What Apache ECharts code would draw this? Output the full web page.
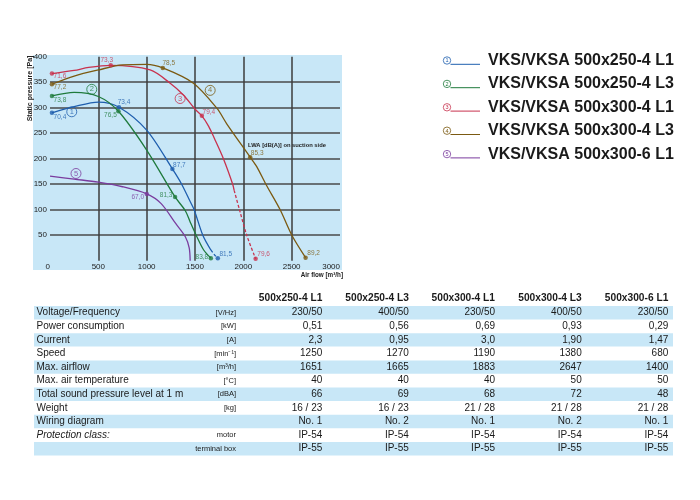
<!DOCTYPE html>
<html>
<head>
<meta charset="utf-8">
<script src="https://cdn.jsdelivr.net/npm/echarts@6/dist/echarts.min.js"></script>
<style>
html, body { margin: 0; padding: 0; background: #fff; }
#main { width: 700px; height: 500px; }
</style>
</head>
<body>
<div id="main"></div>
<script>
var models = ['VKS/VKSA 500x250-4 L1', 'VKS/VKSA 500x250-4 L3', 'VKS/VKSA 500x300-4 L1', 'VKS/VKSA 500x300-4 L3', 'VKS/VKSA 500x300-6 L1'];
var tagNums = ['1', '2', '3', '4', '5'];
var colors = ['#1f5fae', '#1f7a3c', '#c8324e', '#7b5a12', '#7a3c9e'];

// fan curves: [air flow m3/h, static pressure Pa]
var curve1 = [[20, 290], [250, 302], [500, 311], [714, 301], [1000, 256], [1266, 180], [1362, 150], [1450, 116], [1491, 100], [1581, 50], [1664, 21]];
var curve1Dash = [[1664, 21], [1700, 12], [1736, 5]];
var curve2 = [[20, 323], [250, 330], [500, 322], [708, 293], [1000, 217], [1294, 125], [1400, 98], [1450, 76], [1512, 50], [1590, 21], [1664, 5]];
var curve3 = [[20, 367], [250, 373], [400, 379], [628, 383], [1036, 374], [1243, 348], [1380, 325], [1502, 297], [1571, 284], [1640, 264], [1700, 240], [1794, 200], [1890, 150], [1905, 138]];
var curve3Dash = [[1905, 138], [1960, 100], [2035, 50], [2127, 4]];
var curve4 = [[20, 346], [250, 362], [500, 374], [750, 384], [1000, 385], [1167, 378], [1484, 348], [1726, 299], [1830, 268], [2071, 203], [2140, 184], [2233, 150], [2381, 100], [2502, 50], [2644, 6]];
var curve5 = [[0, 166], [250, 160], [500, 154], [750, 145], [1001, 131], [1150, 112], [1300, 73], [1400, 47], [1440, 25], [1450, 0]];

// LWA marker points [air flow, pressure] and their values
var lwaPts1 = [[20, 290], [714, 301], [1266, 180], [1736, 5]];
var lwaVal1 = ['70,4', '73,4', '87,7', '81,5'];
var lwaPts2 = [[20, 323], [708, 293], [1294, 125], [1664, 5]];
var lwaVal2 = ['73,8', '76,5', '81,3', '83,8'];
var lwaPts3 = [[20, 367], [628, 383], [1571, 284], [2127, 4]];
var lwaVal3 = ['71,6', '73,3', '79,4', '79,6'];
var lwaPts4 = [[20, 346], [1167, 378], [2071, 203], [2644, 6]];
var lwaVal4 = ['77,2', '78,5', '85,3', '89,2'];
var lwaPts5 = [[1001, 131]];
var lwaVal5 = ['67,0'];

// where the curve number tags sit
var tagPts = [[225, 292], [432, 336], [1346, 318], [1657, 334], [269, 171]];

// label offsets (px) for the LWA values
var lwaOff = [
  [[8, 4], [5, -5], [7, -4], [8, -4]],
  [[8, 4], [-8, 4], [-9, -2], [-9, -1]],
  [[8, 3], [-4, -5], [7, -4], [8, -4]],
  [[8, 3], [6, -5], [7, -4], [8, -4]],
  [[-9, 3]]
];

// table
var colHeads = ['500x250-4 L1', '500x250-4 L3', '500x300-4 L1', '500x300-4 L3', '500x300-6 L1'];
var rowNames = ['Voltage/Frequency', 'Power consumption', 'Current', 'Speed', 'Max. airflow', 'Max. air temperature', 'Total sound pressure level at 1 m', 'Weight', 'Wiring diagram', 'Protection class:', ''];
var rowUnits = ['[V/Hz]', '[kW]', '[A]', '[min\u207B\u00B9]', '[m\u00B3/h]', '[\u00B0C]', '[dBA]', '[kg]', '', 'motor', 'terminal box'];
var voltage = ['230/50', '400/50', '230/50', '400/50', '230/50'];
var power = ['0,51', '0,56', '0,69', '0,93', '0,29'];
var current = ['2,3', '0,95', '3,0', '1,90', '1,47'];
var speed = ['1250', '1270', '1190', '1380', '680'];
var maxAirflow = ['1651', '1665', '1883', '2647', '1400'];
var maxTemp = ['40', '40', '40', '50', '50'];
var soundLevel = ['66', '69', '68', '72', '48'];
var weight = ['16 / 23', '16 / 23', '21 / 28', '21 / 28', '21 / 28'];
var wiring = ['No. 1', 'No. 2', 'No. 1', 'No. 2', 'No. 1'];
var ipMotor = ['IP-54', 'IP-54', 'IP-54', 'IP-54', 'IP-54'];
var ipBox = ['IP-55', 'IP-55', 'IP-55', 'IP-55', 'IP-55'];
var tableRows = [voltage, power, current, speed, maxAirflow, maxTemp, soundLevel, weight, wiring, ipMotor, ipBox];

var FONT = "'Liberation Sans', Arial, sans-serif";
var dom = document.getElementById('main');
var myChart = echarts.init(dom);

function lineSeries(data, i, dashed) {
  return {
    type: 'line',
    data: data,
    smooth: 0.3,
    showSymbol: false,
    silent: true,
    z: 3,
    lineStyle: { color: colors[i], width: 1.3, type: dashed ? [3, 2] : 'solid' }
  };
}

function markerSeries(pts, vals, offs, i) {
  return {
    type: 'scatter',
    symbolSize: 4.5,
    z: 5,
    itemStyle: { color: colors[i] },
    label: {
      show: true, position: 'inside', formatter: '{b}',
      fontSize: 6.5, fontFamily: FONT, color: colors[i]
    },
    data: pts.map(function (p, k) {
      return { name: vals[k], value: p, label: { offset: offs[k] } };
    })
  };
}

var series = [
  lineSeries(curve1, 0), lineSeries(curve1Dash, 0, true),
  lineSeries(curve2, 1),
  lineSeries(curve3, 2), lineSeries(curve3Dash, 2, true),
  lineSeries(curve4, 3),
  lineSeries(curve5, 4),
  markerSeries(lwaPts1, lwaVal1, lwaOff[0], 0),
  markerSeries(lwaPts2, lwaVal2, lwaOff[1], 1),
  markerSeries(lwaPts3, lwaVal3, lwaOff[2], 2),
  markerSeries(lwaPts4, lwaVal4, lwaOff[3], 3),
  markerSeries(lwaPts5, lwaVal5, lwaOff[4], 4)
];
tagPts.forEach(function (p, i) {
  series.push({
    type: 'scatter',
    symbol: 'circle',
    symbolSize: 10,
    z: 6,
    itemStyle: { color: 'rgba(0,0,0,0)', borderColor: colors[i], borderWidth: 1 },
    label: { show: true, position: 'inside', formatter: tagNums[i], fontSize: 7.5, fontFamily: FONT, color: colors[i] },
    data: [p]
  });
});

// graphic: background, axis names, legend, table
var g = [];
g.push({ type: 'rect', z: -10, shape: { x: 33, y: 55, width: 309, height: 215 }, style: { fill: '#c8e7f7' } });
g.push({ type: 'text', x: 30, y: 88.5, rotation: Math.PI / 2,
  style: { text: 'Static pressure [Pa]', font: 'bold 7px ' + FONT, fill: '#222', align: 'center', verticalAlign: 'middle' } });
g.push({ type: 'text', x: 343, y: 275,
  style: { text: 'Air flow [m\u00B3/h]', font: 'bold 6.3px ' + FONT, fill: '#222', align: 'right', verticalAlign: 'middle' } });
g.push({ type: 'text', x: 248, y: 145, z: 10,
  style: { text: 'LWA [dB(A)] on suction side', font: 'bold 5.8px ' + FONT, fill: '#222', align: 'left', verticalAlign: 'middle' } });

models.forEach(function (m, i) {
  var cy = 60.5 + i * 23.4;
  g.push({ type: 'circle', shape: { cx: 447, cy: cy, r: 3.7 }, style: { fill: 'none', stroke: colors[i], lineWidth: 0.8 } });
  g.push({ type: 'text', x: 447, y: cy + 0.3, style: { text: tagNums[i], font: '5.5px ' + FONT, fill: colors[i], align: 'center', verticalAlign: 'middle' } });
  g.push({ type: 'line', shape: { x1: 450.5, y1: cy + 3.8, x2: 480, y2: cy + 3.8 }, style: { stroke: colors[i], lineWidth: 1 } });
  g.push({ type: 'text', x: 488, y: cy, style: { text: m, font: 'bold 16px ' + FONT, fill: '#1a1a1a', align: 'left', verticalAlign: 'middle' } });
});

var colRight = [322.3, 408.8, 495, 581.7, 668.3];
colHeads.forEach(function (h, c) {
  g.push({ type: 'text', x: colRight[c], y: 298.3, style: { text: h, font: 'bold 10.2px ' + FONT, fill: '#1a1a1a', align: 'right', verticalAlign: 'middle' } });
});
rowNames.forEach(function (name, r) {
  var cy = 312.7 + r * 13.6;
  if (r % 2 === 0) {
    g.push({ type: 'rect', z: -5, shape: { x: 34, y: cy - 6.7, width: 639, height: 13.4 }, style: { fill: '#c8e7f7' } });
  }
  g.push({ type: 'text', x: 36.5, y: cy, style: { text: name, font: (r === 9 ? 'italic ' : '') + '10px ' + FONT, fill: '#1a1a1a', align: 'left', verticalAlign: 'middle' } });
  g.push({ type: 'text', x: 236, y: cy, style: { text: rowUnits[r], font: '7.5px ' + FONT, fill: '#1a1a1a', align: 'right', verticalAlign: 'middle' } });
  tableRows[r].forEach(function (v, c) {
    g.push({ type: 'text', x: colRight[c], y: cy, style: { text: v, font: '10px ' + FONT, fill: '#1a1a1a', align: 'right', verticalAlign: 'middle' } });
  });
});

option = {
  backgroundColor: '#fff',
  animation: false,
  grid: { left: 50, right: 360, top: 56.7, bottom: 239.3 },
  xAxis: {
    type: 'value', min: 0, max: 3000, interval: 500,
    axisLine: { show: false }, axisTick: { show: false },
    axisLabel: {
      fontSize: 8, fontFamily: FONT, color: '#222', margin: 2,
      alignMinLabel: 'right', alignMaxLabel: 'right',
      formatter: function (v) { return String(v); }
    },
    splitLine: { show: true, showMinLine: false, showMaxLine: false, lineStyle: { color: '#3c3c3c', width: 1.5 } }
  },
  yAxis: {
    type: 'value', min: 0, max: 400, interval: 50,
    axisLine: { show: false }, axisTick: { show: false },
    axisLabel: { fontSize: 8, fontFamily: FONT, color: '#222', margin: 3, showMinLabel: false },
    splitLine: { show: true, showMinLine: false, showMaxLine: false, lineStyle: { color: '#4a4a4a', width: 1.5 } }
  },
  graphic: g,
  series: series
};

if (option && typeof option === 'object') {
  myChart.setOption(option, true);
}
</script>
</body>
</html>
